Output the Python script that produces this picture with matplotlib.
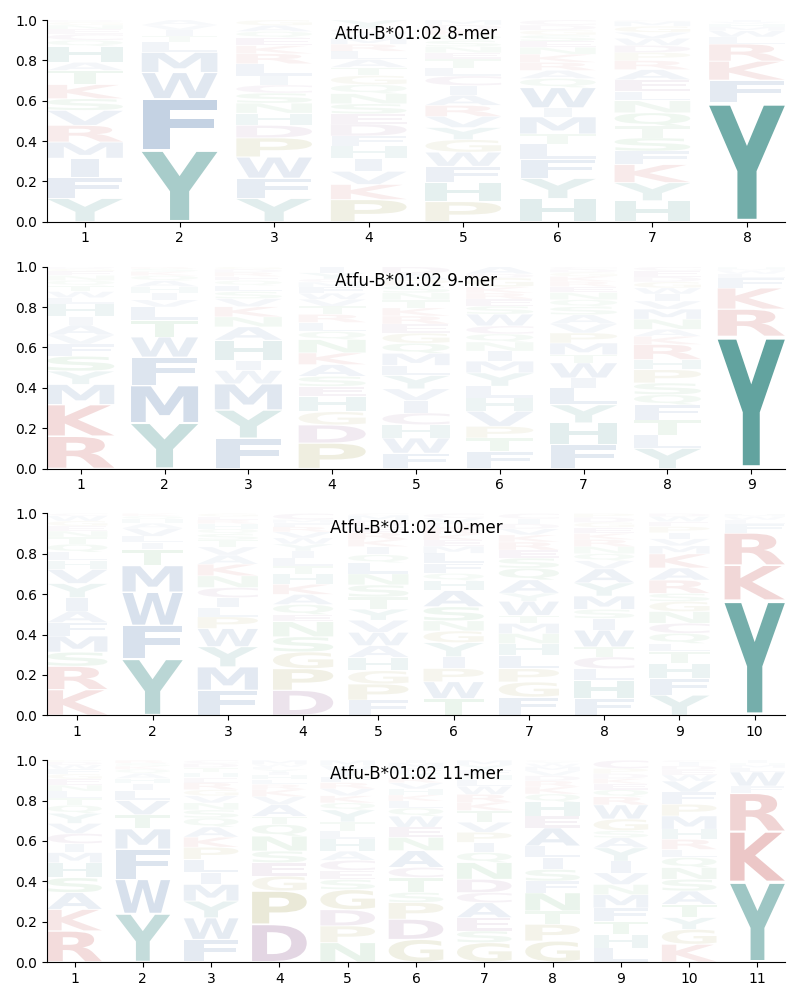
import matplotlib
matplotlib.use("Agg")
import matplotlib.pyplot as plt
from matplotlib.textpath import TextPath
from matplotlib.font_manager import FontProperties
from matplotlib.patches import PathPatch
from matplotlib.transforms import Affine2D

allele = "Atfu-B*01:02"

# ---- 8-mer: letters per position (bottom -> top) and their heights ----
mer8_letters = ["YFIMRVSKTAHQCENGD", "YFWMLTIVA", "YFWPDHNSCILRKEQAG",
                "PKVIHFDESNQGTALRMWCY", "PHFWGYVRAICLTENSQKDM",
                "HYFLTMIWQARKNESGDC", "HYKFSTQNLEARPDWVGMC", "YFKRLWMHVI"]
mer8_heights = [
    [.116, .105, .094, .08, .083, .074, .058, .07, .07, .04, .08, .03, .03, .025, .02, .015, .01],
    [.355, .255, .13, .1, .05, .03, .03, .025, .025],
    [.116, .1, .105, .095, .062, .06, .05, .05, .04, .045, .06, .05, .04, .04, .03, .03, .027],
    [.11, .075, .065, .065, .06, .05, .06, .05, .05, .05, .045, .045, .04, .04, .04, .035, .03, .025, .025, .04],
    [.1, .095, .08, .07, .062, .06, .055, .055, .05, .048, .048, .04, .045, .03, .03, .03, .028, .025, .025, .024],
    [.115, .1, .095, .075, .05, .085, .045, .1, .045, .04, .04, .04, .035, .03, .03, .025, .025, .025],
    [.104, .09, .09, .066, .066, .058, .066, .06, .046, .058, .05, .045, .04, .035, .035, .03, .03, .025, .006],
    [.59, .112, .094, .085, .035, .03, .02, .015, .01, .009],
]

# ---- 9-mer ----
mer9_letters = ["RKMYSFVAIHLWTQNEGD", "YMFWTLVIHAQKSR", "FYMWIHANKVSLQERDG",
                "PDGHESAKNQLRTVWFMCYI", "FWHCIVYLMQGERKTNSPAD",
                "FTPVHLYMINQCWSERKGDA", "FHYLIWTMPVASQNERKGDC",
                "YLTFQSPHRKANMVIWGDEC", "YRKFLWMH"]
mer9_heights = [
    [.16, .157, .1, .066, .074, .06, .045, .05, .04, .065, .03, .03, .03, .025, .025, .02, .013, .01],
    [.226, .186, .14, .1, .083, .066, .035, .035, .03, .03, .025, .02, .015, .009],
    [.15, .14, .13, .066, .05, .1, .066, .05, .05, .04, .035, .03, .025, .02, .02, .015, .013],
    [.126, .09, .066, .075, .05, .05, .058, .058, .066, .04, .045, .04, .04, .035, .03, .03, .025, .016, .03, .03],
    [.076, .075, .066, .058, .062, .058, .066, .05, .06, .05, .05, .045, .04, .04, .04, .035, .035, .03, .03, .034],
    [.085, .066, .058, .075, .066, .058, .066, .058, .05, .045, .04, .04, .058, .04, .035, .03, .03, .045, .02, .035],
    [.118, .108, .09, .083, .05, .075, .04, .058, .05, .045, .045, .04, .035, .035, .03, .025, .025, .02, .015, .013],
    [.1, .066, .075, .075, .05, .058, .066, .05, .075, .04, .035, .05, .05, .04, .035, .03, .03, .025, .03, .02],
    [.655, .135, .105, .05, .02, .015, .01, .01],
]

# ---- 10-mer ----
mer10_letters = ["KRSMFAIYVHLQTNEGWC", "YFWMTILVAHQK", "FMYWPLICNKAVTSQHREG",
                 "DPGSNEQAKHTLIYWVRFMC", "FPGHAWVYTSNLQIKREDMC",
                 "TWPIYGNSAHQFLMEKRDVC", "FGPLHNMTWYAQSERKVDIC",
                 "FHLCTWISMYAVQNRKEGDP", "YFHTLQCNGSRAKMVIPEWD", "YKRFLWMH"]
mer10_heights = [
    [.127, .116, .07, .08, .066, .058, .066, .07, .07, .045, .04, .04, .035, .03, .025, .025, .025, .012],
    [.28, .165, .165, .132, .08, .035, .03, .04, .025, .02, .015, .013],
    [.124, .116, .1, .09, .058, .045, .05, .05, .058, .058, .045, .04, .035, .03, .025, .025, .02, .016, .015],
    [.124, .107, .083, .075, .075, .035, .05, .05, .05, .05, .04, .04, .035, .035, .03, .03, .025, .02, .016, .03],
    [.075, .08, .066, .066, .058, .066, .06, .055, .06, .06, .055, .055, .04, .04, .035, .035, .03, .03, .025, .009],
    [.083, .083, .066, .058, .07, .058, .05, .07, .08, .05, .035, .05, .05, .035, .03, .03, .03, .025, .025, .022],
    [.09, .075, .066, .066, .058, .05, .05, .04, .07, .04, .066, .058, .05, .04, .04, .035, .03, .025, .025, .026],
    [.083, .09, .058, .058, .05, .083, .058, .045, .066, .065, .07, .04, .035, .035, .035, .03, .03, .025, .025, .019],
    [.1, .083, .075, .058, .04, .05, .05, .058, .05, .04, .066, .06, .07, .04, .035, .03, .03, .025, .025, .015],
    [.57, .174, .16, .045, .02, .015, .01, .006],
]

# ---- 11-mer ----
mer11_letters = ["RKASHMICVYQTLNEGFWDP", "YWFMTVLIHAQKSR", "FWYMILPKAQSNVGREHTDC",
                 "DPGESNQTAVKRLHIYFWM", "NPDGSECAHLTYQKVRFIWM",
                 "GDPSTCANEWQLKHVRYFMI", "GSEACDNQIPVTKRWLHFYM",
                 "GPTNFSILAEHQKRDVMWYC", "LHTFMNVIYASGWRQEKDPC",
                 "KGYTASNQLRHMPFVWEDIC", "YKRFWLMHI"]
mer11_heights = [
    [.154, .107, .083, .074, .074, .05, .045, .05, .05, .05, .04, .035, .035, .03, .03, .025, .025, .02, .015, .008],
    [.24, .17, .15, .1, .07, .07, .05, .035, .025, .025, .02, .015, .015, .015],
    [.112, .107, .083, .083, .058, .066, .06, .05, .05, .045, .04, .035, .035, .03, .035, .025, .025, .025, .02, .016],
    [.187, .165, .074, .066, .058, .074, .058, .04, .058, .04, .035, .025, .025, .02, .015, .015, .012, .013, .02],
    [.096, .083, .08, .1, .05, .045, .05, .045, .06, .04, .045, .06, .035, .035, .035, .03, .03, .03, .025, .026],
    [.112, .1, .083, .05, .074, .05, .083, .066, .05, .055, .04, .035, .03, .03, .03, .025, .025, .025, .025, .012],
    [.096, .058, .066, .074, .05, .066, .083, .05, .05, .05, .05, .058, .04, .04, .04, .03, .025, .025, .025, .024],
    [.104, .083, .066, .09, .058, .058, .058, .058, .09, .058, .07, .04, .035, .03, .025, .025, .02, .015, .01, .007],
    [.07, .066, .066, .066, .066, .05, .058, .058, .066, .05, .035, .058, .07, .04, .035, .03, .025, .025, .025, .041],
    [.088, .074, .058, .066, .066, .058, .058, .05, .04, .05, .05, .066, .058, .06, .055, .03, .025, .02, .018, .01],
    [.397, .25, .19, .035, .07, .02, .015, .01, .013],
]

panel_names = ["8-mer", "9-mer", "10-mer", "11-mer"]
panel_letters = [mer8_letters, mer9_letters, mer10_letters, mer11_letters]
panel_heights = [mer8_heights, mer9_heights, mer10_heights, mer11_heights]

# colour groups
color_groups = {
    "YH": "#1b7a74",
    "FWMLIVA": "#2b5c9c",
    "KR": "#bb3333",
    "PG": "#8f8a2a",
    "DEC": "#7a3a7a",
    "NSTQ": "#3a9a4a",
}
letter_color = {c: col for grp, col in color_groups.items() for c in grp}

fp = FontProperties(family="DejaVu Sans", weight="bold")
_cache = {}


def get_path(ch):
    if ch not in _cache:
        _cache[ch] = TextPath((0, 0), ch, size=1, prop=fp)
    return _cache[ch]


E_width = get_path("E").get_extents().width
COL_W = 0.8
VPAD = 0.05


def draw_letter(ax, ch, xc, y0, h, color, alpha):
    tp = get_path(ch)
    bb = tp.get_extents()
    hs = min(COL_W / bb.width, COL_W / E_width)
    hh = h * (1 - VPAD)
    vs = hh / bb.height
    cw = bb.width * hs
    tr = (Affine2D().translate(-bb.x0, -bb.y0).scale(hs, vs)
          .translate(xc - cw / 2, y0 + h * VPAD / 2))
    path = tr.transform_path(tp)
    ax.add_patch(PathPatch(path, facecolor=color, edgecolor="none",
                           lw=0, alpha=alpha))


fig = plt.figure(figsize=(8, 10), dpi=100)
gs = fig.add_gridspec(4, 1, left=0.059, right=0.981, top=0.98,
                      bottom=0.038, hspace=0.223)

for i, (name, lets, hts) in enumerate(zip(panel_names, panel_letters, panel_heights)):
    ax = fig.add_subplot(gs[i])
    n = len(lets)
    for pos in range(n):
        y = 0.0
        for ch, h in zip(lets[pos], hts[pos]):
            alpha = min(1.0, 0.01 + 1.04 * h)
            draw_letter(ax, ch, pos + 1, y, h, letter_color[ch], alpha)
            y += h
    ax.set_xlim(0.6, n + 0.4)
    ax.set_ylim(0, 1)
    ax.set_xticks(range(1, n + 1))
    ax.set_yticks([0, 0.2, 0.4, 0.6, 0.8, 1.0])
    ax.spines["top"].set_visible(False)
    ax.spines["right"].set_visible(False)
    ax.text(0.5, 0.93, f"{allele} {name}", transform=ax.transAxes,
            ha="center", va="center", fontsize=12)

fig.savefig("out.png", dpi=100)
